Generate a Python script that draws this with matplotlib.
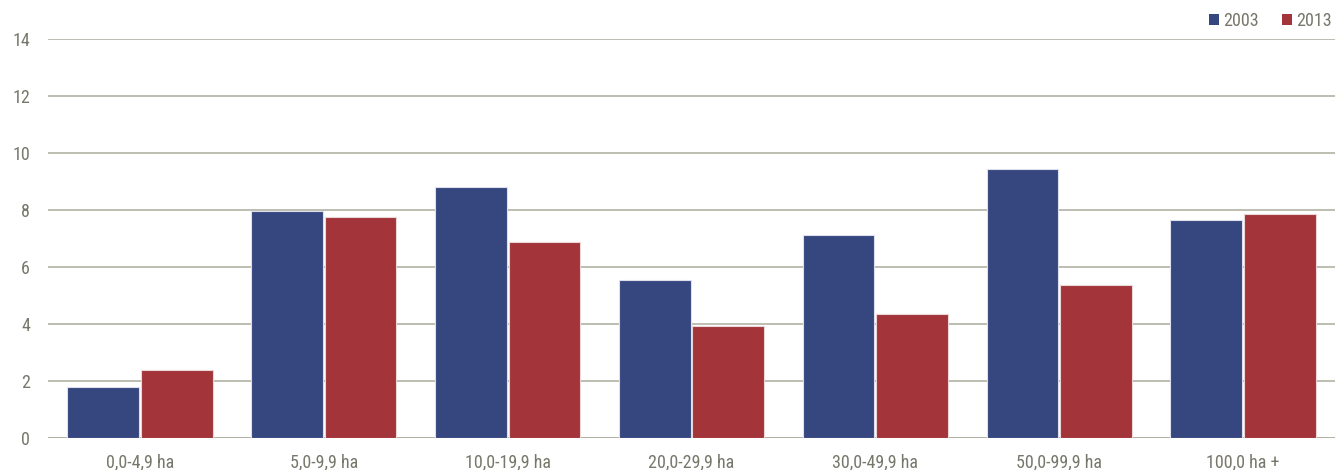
import matplotlib
matplotlib.use("Agg")
import matplotlib.pyplot as plt
import numpy as np
from matplotlib.patches import Patch

categories = ["0,0-4,9 ha", "5,0-9,9 ha", "10,0-19,9 ha", "20,0-29,9 ha",
              "30,0-49,9 ha", "50,0-99,9 ha", "100,0 ha +"]
v2003 = [1.78, 7.98, 8.80, 5.56, 7.11, 9.45, 7.64]
v2013 = [2.40, 7.75, 6.88, 3.93, 4.34, 5.36, 7.86]
series_labels = ["2003", "2013"]
yticks = [0, 2, 4, 6, 8, 10, 12, 14]

plt.rcParams['font.family'] = ['Roboto Condensed', 'DejaVu Sans']
plt.rcParams['font.stretch'] = 'condensed'

blue = "#364780"
red = "#A2343A"
grid_c = "#B3B1A3"
txt_c = "#77776B"

fig = plt.figure(figsize=(13.35, 4.70), dpi=100)
ax = fig.add_axes([48/1335, 32/470, 1 - 48/1335, 399/470])

x = np.arange(len(categories))
w = 0.39
ax.bar(x - 0.2, v2003, width=w, color=blue, edgecolor="#DDE0EA", linewidth=0.8, zorder=3)
ax.bar(x + 0.2, v2013, width=w, color=red, edgecolor="#EAD6D7", linewidth=0.8, zorder=3)

ax.set_xlim(-0.5, 6.5)
ax.set_ylim(0, 14)
ax.set_yticks(yticks)
ax.set_xticks(x)
ax.set_xticklabels(categories)
ax.yaxis.grid(True, color=grid_c, linewidth=1.2, zorder=0)
ax.set_axisbelow(True)
for s in ax.spines.values():
    s.set_visible(False)
ax.tick_params(axis='both', length=0, colors=txt_c, labelsize=13)
ax.tick_params(axis='y', pad=13)
ax.tick_params(axis='x', pad=11)
ax.axhline(0, color=grid_c, linewidth=1.4, zorder=2)

handles = [Patch(facecolor=blue, edgecolor='none'), Patch(facecolor=red, edgecolor='none')]
leg = fig.legend(handles, series_labels, loc='upper right', bbox_to_anchor=(1.003, 0.99),
                 ncol=2, frameon=False, fontsize=13, handlelength=0.55, handleheight=0.55,
                 handletextpad=0.25, columnspacing=1.25, borderaxespad=0.0)
for t in leg.get_texts():
    t.set_color(txt_c)

fig.savefig("out.png", dpi=100)
